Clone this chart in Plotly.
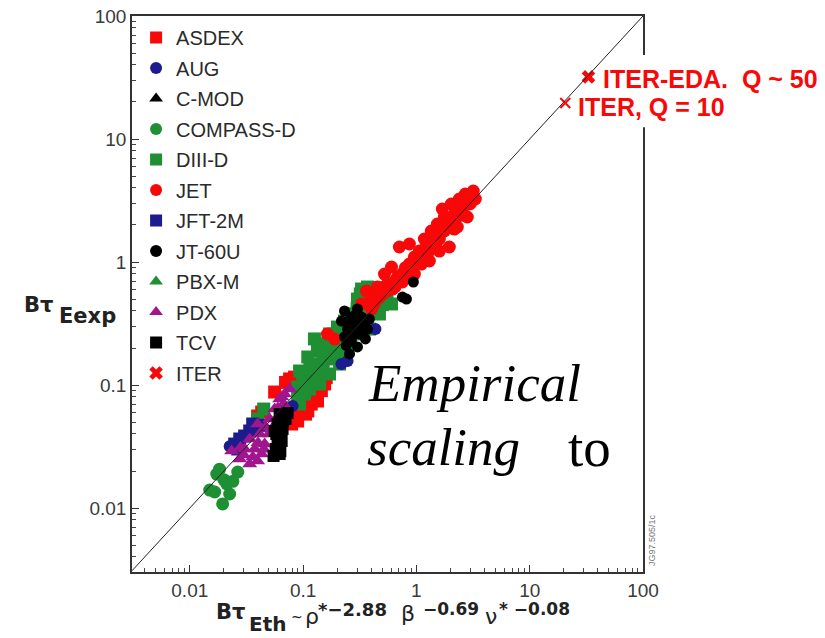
import plotly.graph_objects as go

# ---------------- data ----------------
asdex_x = [0.076, 0.0841, 0.0561, 0.0397, 0.0895, 0.0895, 0.0931, 0.103, 0.114, 0.126,
           0.140, 0.155, 0.134, 0.110, 0.0792, 0.0431, 0.0700, 0.118,
           0.100, 0.120, 0.145, 0.105, 0.085, 0.160, 0.130, 0.095]
asdex_y = [0.112, 0.116, 0.0877, 0.056, 0.0581, 0.051, 0.0662, 0.0769, 0.0799, 0.0894,
           0.0964, 0.102, 0.0741, 0.0615, 0.0482, 0.0603, 0.1050, 0.0700,
           0.070, 0.085, 0.090, 0.058, 0.062, 0.115, 0.100, 0.075]

aug_x = [0.218, 0.247, 0.435, 0.0808, 0.0225, 0.300, 0.270]
aug_y = [0.148, 0.157, 0.285, 0.0675, 0.0318, 0.280, 0.250]

cmod_x = [0.280, 0.300]
cmod_y = [0.300, 0.350]

compass_x = [0.0173, 0.0265, 0.0212, 0.0166, 0.0225, 0.0195, 0.0183, 0.0150, 0.0200, 0.0240]
compass_y = [0.0189, 0.0196, 0.0157, 0.0135, 0.0130, 0.0108, 0.0207, 0.0140, 0.0170, 0.0165]

diiid_x = [0.0931, 0.103, 0.0895, 0.114, 0.099, 0.126, 0.0931, 0.119, 0.140, 0.110,
           0.134, 0.164, 0.155, 0.190, 0.126, 0.171, 0.210, 0.232, 0.201, 0.257,
           0.284, 0.232, 0.315, 0.302, 0.328, 0.370, 0.402, 0.348, 0.427, 0.523,
           0.603, 0.472, 0.385, 0.210, 0.171, 0.140, 0.0895, 0.0449, 0.0397,
           0.105, 0.095, 0.130, 0.115, 0.150, 0.145, 0.180, 0.165, 0.200, 0.220,
           0.190, 0.250, 0.270, 0.300, 0.320, 0.350, 0.400, 0.380, 0.450, 0.500,
           0.550, 0.150, 0.120, 0.100, 0.240, 0.280]
diiid_y = [0.0701, 0.0845, 0.0964, 0.0928, 0.123, 0.112, 0.130, 0.148, 0.135, 0.169,
           0.189, 0.163, 0.215, 0.196, 0.237, 0.260, 0.237, 0.179, 0.296, 0.275,
           0.344, 0.331, 0.313, 0.500, 0.603, 0.626, 0.549, 0.415, 0.456, 0.500,
           0.456, 0.378, 0.285, 0.148, 0.123, 0.102, 0.0769, 0.0638, 0.0529,
           0.105, 0.085, 0.125, 0.135, 0.160, 0.190, 0.180, 0.220, 0.210, 0.270,
           0.260, 0.300, 0.380, 0.420, 0.550, 0.500, 0.500, 0.620, 0.420, 0.450,
           0.480, 0.130, 0.110, 0.095, 0.200, 0.260]

jet_x = [0.362, 0.402, 0.453, 0.501, 0.555, 0.615, 0.681, 0.708, 0.753, 0.784,
         0.867, 0.867, 0.960, 0.960, 1.063, 1.107, 1.176, 1.250, 1.355, 1.383,
         1.531, 1.595, 1.694, 1.765, 1.875, 1.953, 2.032, 2.161, 2.297, 2.393,
         2.543, 2.701, 2.813, 2.931, 3.177, 3.311, 0.402, 0.328, 0.523, 0.603,
         1.302, 1.595, 0.190, 0.164, 0.648, 1.063, 1.441, 1.953, 2.161, 1.765,
         1.176, 0.833, 0.472,
         0.45, 0.55, 0.70, 0.80, 0.90, 1.00, 1.20, 1.30, 1.50, 1.60,
         1.80, 2.00, 2.20, 2.50, 2.60, 2.90, 3.00, 0.65, 0.75, 1.10,
         1.40, 1.70, 2.40, 0.50, 0.42]
jet_y = [0.581, 0.519, 0.626, 0.549, 0.662, 0.603, 0.755, 1.324, 0.688, 0.845,
         1.401, 0.963, 0.798, 1.098, 1.228, 0.963, 1.538, 1.161, 1.787, 1.349,
         2.036, 1.538, 2.697, 1.787, 2.238, 1.324, 2.963, 2.455, 1.926, 3.252,
         2.697, 3.573, 2.323, 2.963, 3.777, 3.252, 0.415, 0.456, 0.798, 0.910,
         1.019, 1.228, 0.237, 0.260, 0.701, 1.019, 1.538, 2.036, 1.854, 2.323,
         1.098, 0.798, 0.519,
         0.50, 0.58, 0.72, 0.90, 0.88, 1.05, 1.30, 1.25, 1.70, 1.75,
         2.00, 2.30, 2.20, 2.90, 2.40, 3.40, 3.00, 0.63, 0.80, 1.15,
         1.45, 1.85, 2.60, 0.62, 0.45]

jft_x = [0.0249, 0.0276, 0.0305, 0.0338, 0.0359, 0.0265, 0.0380, 0.0410]
jft_y = [0.0331, 0.0364, 0.0385, 0.0423, 0.0482, 0.0302, 0.0440, 0.0470]

jt60_x = [0.232, 0.267, 0.302, 0.328, 0.284, 0.247, 0.348, 0.315, 0.232, 0.267,
          0.302, 0.257, 0.385, 0.370, 0.941, 0.753, 0.817, 0.218, 0.355,
          0.290, 0.250, 0.330, 0.280, 0.240, 0.310]
jt60_y = [0.400, 0.357, 0.415, 0.357, 0.313, 0.285, 0.313, 0.260, 0.246, 0.228,
          0.204, 0.179, 0.344, 0.285, 0.688, 0.519, 0.500, 0.331, 0.237,
          0.370, 0.330, 0.290, 0.260, 0.210, 0.320]

pbxm_x = [0.200, 0.250, 0.120]
pbxm_y = [0.250, 0.300, 0.140]

pdx_x = [0.0234, 0.0276, 0.0338, 0.0397, 0.0305, 0.0374, 0.0431, 0.0338, 0.0414, 0.0468,
         0.0458, 0.0507, 0.0561, 0.0621, 0.0687, 0.076, 0.0528, 0.0596, 0.0673, 0.0397,
         0.030, 0.036, 0.045, 0.050, 0.055, 0.060, 0.065, 0.040, 0.028]
pdx_y = [0.0291, 0.0250, 0.0228, 0.0241, 0.0302, 0.0302, 0.0275, 0.0364, 0.040, 0.0456,
         0.0331, 0.0529, 0.0638, 0.0769, 0.0845, 0.0928, 0.0439, 0.055, 0.0701, 0.0482,
         0.027, 0.026, 0.030, 0.040, 0.045, 0.065, 0.080, 0.034, 0.031]

tcv_x = [0.0621, 0.0687, 0.0596, 0.0659, 0.0596, 0.0647, 0.0573, 0.0621, 0.0549, 0.0701,
         0.0730, 0.0561, 0.0600, 0.0580, 0.0660, 0.0630]
tcv_y = [0.0581, 0.0549, 0.0482, 0.0439, 0.0378, 0.0351, 0.0302, 0.0275, 0.0265, 0.0529,
         0.0592, 0.0423, 0.0320, 0.0400, 0.0500, 0.0290]

iter_eda_x = [33.0]
iter_eda_y = [32.0]
iter_q10_x = [20.6]
iter_q10_y = [19.6]

diag_x = [0.00309, 100.0]
diag_y = [0.00309, 100.0]

tick_vals = [0.01, 0.1, 1, 10, 100]
tick_text = ["0.01", "0.1", "1", "10", "100"]

RED = "#f80808"
GREEN = "#1e8f33"
NAVY = "#1c1c8e"
MAGENTA = "#a0168e"
BLACK = "#000000"

# (name, x, y, symbol, color, legend rank, marker size) in drawing order
series = [
    ("ASDEX", asdex_x, asdex_y, "square", RED, 1, 13),
    ("DIII-D", diiid_x, diiid_y, "square", GREEN, 5, 13),
    ("PBX-M", pbxm_x, pbxm_y, "triangle-up", GREEN, 9, 13),
    ("AUG", aug_x, aug_y, "circle", NAVY, 2, 12),
    ("JFT-2M", jft_x, jft_y, "square", NAVY, 7, 13),
    ("PDX", pdx_x, pdx_y, "triangle-up", MAGENTA, 10, 13),
    ("COMPASS-D", compass_x, compass_y, "circle", GREEN, 4, 13),
    ("JET", jet_x, jet_y, "circle", RED, 6, 13),
    ("C-MOD", cmod_x, cmod_y, "triangle-up", BLACK, 3, 11),
    ("JT-60U", jt60_x, jt60_y, "circle", BLACK, 8, 11),
    ("TCV", tcv_x, tcv_y, "square", BLACK, 11, 12),
]

fig = go.Figure()
for name, xs, ys, sym, col, rank, size in series:
    fig.add_trace(go.Scatter(
        x=xs, y=ys, mode="markers", name=name, legendgroup=name, legendrank=rank,
        marker=dict(symbol=sym, size=size, color=col, line=dict(width=0)),
    ))

fig.add_trace(go.Scatter(
    x=iter_eda_x, y=iter_eda_y, mode="markers", name="ITER", legendgroup="ITER", legendrank=12,
    marker=dict(symbol="x", size=12, color=RED, line=dict(width=0)),
))
fig.add_trace(go.Scatter(
    x=iter_q10_x, y=iter_q10_y, mode="markers", showlegend=False,
    marker=dict(symbol="x-thin", size=10, color=RED, line=dict(width=2, color=RED)),
))
fig.add_trace(go.Scatter(
    x=diag_x, y=diag_y, mode="lines", showlegend=False,
    line=dict(color="#222222", width=1),
))

axis_common = dict(
    type="log", showgrid=False, zeroline=False, automargin=False,
    showline=True, linecolor="#333333", linewidth=1.5, mirror=True,
    ticks="inside", ticklen=7, tickwidth=1, tickcolor="#333333",
    tickmode="array", tickvals=tick_vals, ticktext=tick_text,
    ticklabeloverflow="allow",
    tickfont=dict(family="Liberation Sans, Arial", size=19, color="#3a3a3a"),
    minor=dict(ticks="inside", ticklen=4, tickwidth=1, tickcolor="#444444",
               tickvals=[m * 10 ** e for e in range(-3, 2) for m in range(2, 10)]),
)

fig.update_layout(
    width=825, height=638,
    margin=dict(l=132, r=182, t=16, b=66, autoexpand=False),
    paper_bgcolor="white", plot_bgcolor="white",
    xaxis=dict(range=[-2.51, 2.0], **axis_common),
    yaxis=dict(range=[-2.52, 2.0], **axis_common),
    showlegend=True,
    legend=dict(
        x=0.008, y=0.9964, xanchor="left", yanchor="top",
        bgcolor="rgba(0,0,0,0)", borderwidth=0, maxheight=600,
        font=dict(family="Liberation Sans, Arial", size=20, color="#2a2a2a"),
        traceorder="grouped", tracegroupgap=1.5, itemsizing="constant",
    ),
)

# white patch over the right frame where the ITER labels sit
fig.add_shape(type="rect", xref="paper", yref="paper", x0=0.985, x1=1.02, y0=0.80, y1=0.93,
              fillcolor="white", line=dict(width=0), layer="above")


def px(xp):
    return (xp - 132) / (643 - 132)


def py(yp):
    return (572 - yp) / (572 - 16)


def label(text, x, y, size, color="#222222", family="Liberation Sans, Arial", xanchor="left", angle=0):
    fig.add_annotation(text=text, xref="paper", yref="paper", x=px(x), y=py(y),
                       xanchor=xanchor, yanchor="middle", showarrow=False, textangle=angle,
                       font=dict(family=family, size=size, color=color))


TITLE_FONT = "DejaVu Sans, Liberation Sans"

label("<b>ITER-EDA.  Q ~ 50</b>", 601, 79, 25, RED)
label("<b>ITER, Q = 10</b>", 576, 107, 25, RED)

label("<i>Empirical</i>", 366, 383, 53, "#000000", "Liberation Serif, Times New Roman")
label("<i>scaling</i>", 365, 447, 53, "#000000", "Liberation Serif, Times New Roman")
label("to", 566, 447, 55, "#000000", "Liberation Serif, Times New Roman")

label("JG97.505/1c", 652, 540, 9, "#777777", xanchor="center", angle=-90)

# y axis title
label("<b>Bτ</b>", 22, 305, 21, family=TITLE_FONT)
label("<b>Eexp</b>", 57, 316, 21, family=TITLE_FONT)

# x axis title, piece by piece
label("<b>Bτ</b>", 214, 612, 21, family=TITLE_FONT)
label("<b>Eth</b>", 247, 624, 20, family=TITLE_FONT)
label("~", 289, 617, 14, family=TITLE_FONT)
label("ρ", 303, 616, 22, family=TITLE_FONT)
label("<b>*−2.88</b>", 316, 609, 18, family=TITLE_FONT)
label("β", 399, 613, 22, family=TITLE_FONT)
label("<b>−0.69</b>", 421, 609, 17, family=TITLE_FONT)
label("ν", 483, 616, 22, family=TITLE_FONT)
label("<b>* −0.08</b>", 497, 609, 17, family=TITLE_FONT)

# remove the page's default body margin so the figure fills the window exactly
fig.write_html(
    "out.html",
    config={"displayModeBar": False},
    post_script="document.body.style.margin='0';document.body.style.overflow='hidden';",
)
